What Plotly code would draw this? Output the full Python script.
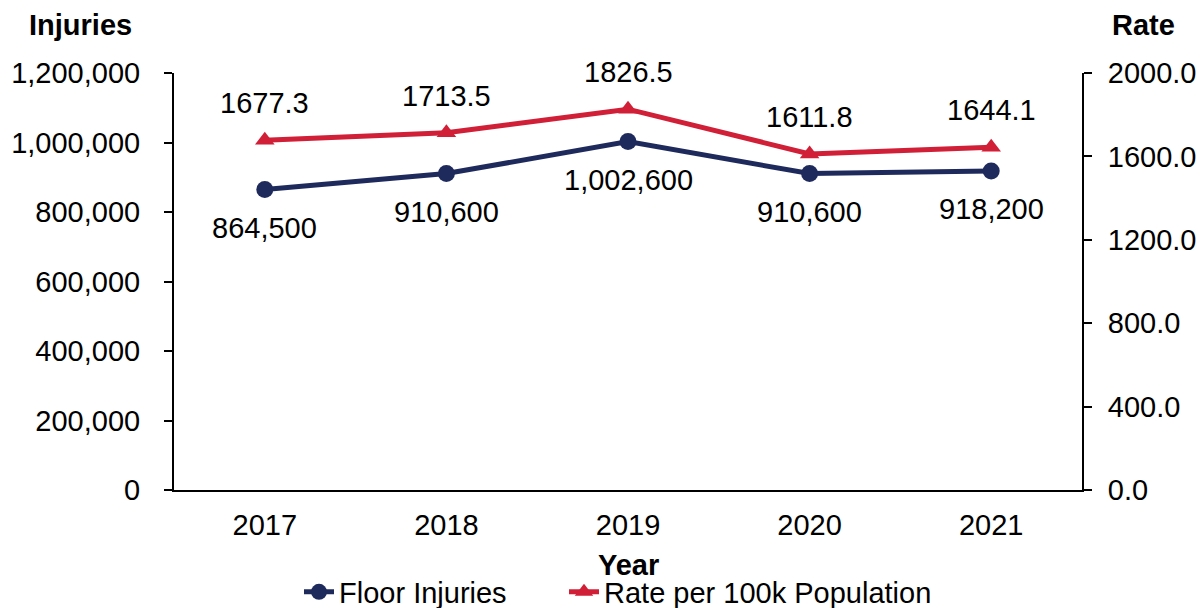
import plotly.graph_objects as go

years = ["2017", "2018", "2019", "2020", "2021"]
injuries = [864500, 910600, 1002600, 910600, 918200]
rate = [1677.3, 1713.5, 1826.5, 1611.8, 1644.1]
injury_labels = ["864,500", "910,600", "1,002,600", "910,600", "918,200"]
rate_labels = ["1677.3", "1713.5", "1826.5", "1611.8", "1644.1"]
left_ticks = [0, 200000, 400000, 600000, 800000, 1000000, 1200000]
right_ticks = [0, 400, 800, 1200, 1600, 2000]

NAVY = "#1F2A5C"
RED = "#D01F36"
FONT = "Liberation Sans, Arial, sans-serif"
FS = 29

# page body has an 8px default margin; layout coordinates are in figure pixels
OFF = 8
L, R, T, B = 174 - OFF, 1082 - OFF, 73 - OFF, 490 - OFF
W, H = 1204, 608

fig = go.Figure()
fig.add_trace(go.Scatter(
    x=years, y=injuries, name="Floor Injuries", mode="lines+markers",
    line=dict(color=NAVY, width=5), marker=dict(symbol="circle", size=17, color=NAVY),
    yaxis="y", legend="legend",
))
fig.add_trace(go.Scatter(
    x=years, y=rate, name="Rate per 100k Population", mode="lines+markers",
    line=dict(color=RED, width=5), marker=dict(symbol="triangle-up", size=17, color=RED),
    yaxis="y2", legend="legend2",
))

annotations = []
for i, (y, t) in enumerate(zip(injuries, injury_labels)):
    annotations.append(dict(x=i, y=y, xref="x", yref="y", text=t, showarrow=False,
                            yshift=-38, font=dict(size=FS, color="black", family=FONT)))
for i, (y, t) in enumerate(zip(rate, rate_labels)):
    annotations.append(dict(x=i, y=y, xref="x", yref="y2", text=t, showarrow=False,
                            yshift=37, font=dict(size=FS, color="black", family=FONT)))


def paper_x(px):
    return (px - OFF - L) / (R - L)


def paper_y(py):
    return (B - (py - OFF)) / (B - T)


annotations.append(dict(x=paper_x(80), y=paper_y(25), xref="paper", yref="paper",
                        text="<b>Injuries</b>", showarrow=False, xanchor="center", yanchor="middle",
                        font=dict(size=FS, color="black", family=FONT)))
annotations.append(dict(x=paper_x(1143), y=paper_y(25), xref="paper", yref="paper",
                        text="<b>Rate</b>", showarrow=False, xanchor="center", yanchor="middle",
                        font=dict(size=FS, color="black", family=FONT)))
annotations.append(dict(x=paper_x(628), y=paper_y(565), xref="paper", yref="paper",
                        text="<b>Year</b>", showarrow=False, xanchor="center", yanchor="middle",
                        font=dict(size=FS, color="black", family=FONT)))

legend_common = dict(orientation="h", xref="container", yref="container", xanchor="left",
                     y=1 - (592 - OFF) / H, yanchor="middle",
                     font=dict(size=FS, color="black", family=FONT), bgcolor="rgba(0,0,0,0)")

fig.update_layout(
    width=W, height=H,
    margin=dict(l=L, r=W - R, t=T, b=H - B, autoexpand=False),
    paper_bgcolor="white", plot_bgcolor="white",
    font=dict(family=FONT, size=FS, color="black"),
    showlegend=True,
    legend=dict(x=(299 - OFF) / W, **legend_common),
    legend2=dict(x=(564 - OFF) / W, **legend_common),
    xaxis=dict(
        type="category", range=[-0.5, 4.5], showgrid=False, zeroline=False, automargin=False,
        showline=True, linecolor="black", linewidth=2, ticks="", ticklabelstandoff=8,
        tickfont=dict(size=FS, color="black", family=FONT),
    ),
    yaxis=dict(
        range=[0, 1200000], tickvals=left_ticks, tickformat=",d", showgrid=False,
        zeroline=False, showline=True, linecolor="black", linewidth=2, automargin=False,
        ticks="outside", ticklen=8, tickwidth=2, tickcolor="black", ticklabelstandoff=18,
        tickfont=dict(size=FS, color="black", family=FONT),
    ),
    yaxis2=dict(
        range=[0, 2000], tickvals=right_ticks, tickformat=".1f", overlaying="y", side="right",
        showgrid=False, zeroline=False, showline=True, linecolor="black", linewidth=2,
        automargin=False, ticks="outside", ticklen=8, tickwidth=2, tickcolor="black",
        ticklabelstandoff=10, tickfont=dict(size=FS, color="black", family=FONT),
    ),
    annotations=annotations,
)

fig.write_html("out.html")
